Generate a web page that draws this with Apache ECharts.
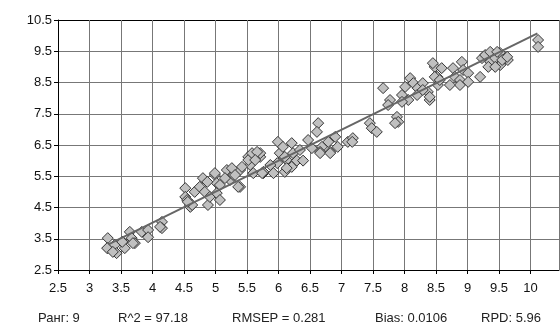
<!DOCTYPE html>
<html>
<head>
<meta charset="utf-8">
<script src="https://cdn.jsdelivr.net/npm/echarts@6/dist/echarts.min.js"></script>
<style>
  html, body { margin: 0; padding: 0; background: #fff; }
  #chart { width: 560px; height: 329px; }
</style>
</head>
<body>
<div id="chart"></div>
<script>
const measured = [
  3.29, 3.29, 3.40, 3.43, 3.53, 3.56, 3.64, 3.67, 3.72, 3.83, 3.93, 3.93, 4.15, 4.15,
  3.28, 3.37, 3.52, 3.69, 4.12, 4.60,
  4.52, 4.52, 4.55, 4.63, 4.67, 4.75, 4.83, 4.80, 4.88, 4.91, 4.99, 5.02, 5.02, 5.07,
  5.18, 5.23, 5.28, 5.39, 5.39, 5.52, 5.55, 5.71, 5.76, 5.92, 5.98,
  4.56, 4.87, 4.99, 5.07, 5.15, 5.26, 5.36, 5.31, 5.42, 5.52, 5.58, 5.71, 5.60, 5.76,
  5.66, 5.99, 6.02, 6.07, 6.13, 6.10, 6.21, 6.23, 6.29, 6.21, 6.34, 5.74, 5.63, 5.87,
  6.47, 6.63, 6.61, 6.69, 6.79, 6.82, 6.90, 6.94, 6.66, 6.53, 7.10, 6.10, 6.13, 6.39,
  6.66, 6.82,
  7.45, 7.48, 7.56, 7.18, 7.66, 7.77, 7.74, 7.88, 7.90, 7.85, 7.96, 8.01, 8.09, 8.14,
  8.21, 8.20, 8.06, 7.96, 8.29, 8.37, 8.40, 8.48, 8.52, 8.53, 7.17,
  8.45, 8.48, 8.59, 8.56, 8.40, 8.77, 8.80, 8.88, 8.91, 8.93, 9.01, 8.88, 9.01, 9.20,
  9.23, 9.28, 9.36, 9.36, 9.33, 9.44, 9.52, 9.52, 9.60, 9.64, 9.44, 8.29, 8.72,
  9.47, 9.55, 9.63, 10.12, 10.12
];
const predicted = [
  3.52, 3.20, 3.30, 3.04, 3.40, 3.20, 3.72, 3.52, 3.36, 3.72, 3.78, 3.55, 4.04, 3.84,
  3.20, 3.08, 3.40, 3.36, 3.88, 4.52,
  5.12, 4.84, 4.74, 4.58, 5.00, 5.16, 5.00, 5.44, 4.58, 4.84, 5.54, 5.28, 4.96, 4.74,
  5.70, 5.38, 5.54, 5.16, 5.70, 6.12, 5.86, 6.12, 5.60, 5.60, 5.92,
  4.68, 5.32, 5.60, 5.22, 5.44, 5.76, 5.16, 5.54, 5.80, 6.02, 6.24, 6.24, 5.60, 5.64,
  6.28, 6.60, 6.24, 6.44, 6.02, 5.64, 6.56, 6.24, 6.00, 5.80, 6.34, 5.60, 6.02, 5.86,
  6.66, 7.20, 6.92, 6.44, 6.60, 6.28, 6.76, 6.44, 6.28, 6.40, 6.60, 6.12, 5.76, 6.00,
  6.24, 6.24,
  7.20, 7.04, 6.92, 6.72, 8.32, 7.94, 7.78, 7.40, 7.24, 7.20, 8.10, 8.36, 8.64, 8.48,
  8.32, 8.10, 7.94, 7.88, 8.48, 8.20, 7.94, 9.00, 8.68, 8.42, 6.60,
  9.12, 8.68, 8.96, 8.58, 8.04, 8.96, 8.68, 8.58, 9.16, 8.90, 8.80, 8.42, 8.52, 8.68,
  9.28, 9.38, 9.48, 9.16, 9.00, 9.28, 9.44, 9.06, 9.28, 9.22, 9.00, 8.26, 8.42,
  9.48, 9.22, 9.32, 9.86, 9.64
];
// fitted line end points
const fitX = [3.30, 10.11];
const fitY = [3.32, 10.07];

const xTickMin = 2.5, xTickStep = 0.5;
const yTickMin = 2.5, yTickMax = 10.5, yTickStep = 1;

const stats = ["Ранг: 9", "R^2 = 97.18", "RMSEP = 0.281", "Bias: 0.0106", "RPD: 5.96"];
const statsX = [38, 118, 232, 375, 481];

const chart = echarts.init(document.getElementById("chart"));

const font = "Liberation Sans, Arial, sans-serif";
const gridColors = ["#777", "#777", "#777", "#777", "#777", "#777", "#777", "#777", "#000"];

chart.setOption({
  animation: false,
  grid: { left: 58, top: 20, right: 1, bottom: 59 },
  xAxis: {
    type: "value",
    min: xTickMin,
    max: 10.452,
    interval: xTickStep,
    axisLine: { show: true, onZero: false, lineStyle: { color: "#000", width: 1 } },
    axisTick: { show: true, length: 4, lineStyle: { color: "#000" } },
    axisLabel: { color: "#111", fontFamily: font, fontSize: 13, margin: 12, showMaxLabel: false },
    splitLine: { show: true, lineStyle: { color: "#777", width: 1 } }
  },
  yAxis: {
    type: "value",
    min: yTickMin,
    max: yTickMax,
    interval: yTickStep,
    axisLine: { show: true, onZero: false, lineStyle: { color: "#000", width: 1 } },
    axisTick: { show: true, length: 4, lineStyle: { color: "#000" } },
    axisLabel: { color: "#111", fontFamily: font, fontSize: 13, margin: 6 },
    splitLine: { show: true, lineStyle: { color: gridColors, width: 1 } }
  },
  series: [
    {
      type: "scatter",
      symbol: "diamond",
      symbolSize: 11,
      data: measured.map((x, i) => [x, predicted[i]]),
      itemStyle: { color: "#c0c0c0", borderColor: "#333", borderWidth: 1, opacity: 1 },
      z: 2
    },
    {
      type: "line",
      data: fitX.map((x, i) => [x, fitY[i]]),
      symbol: "none",
      lineStyle: { color: "#666", width: 2 },
      z: 3
    }
  ],
  graphic: stats.map((t, i) => ({
    type: "text",
    left: statsX[i],
    top: 312,
    style: { text: t, font: "13px " + font, fill: "#222" }
  }))
});
</script>
</body>
</html>
